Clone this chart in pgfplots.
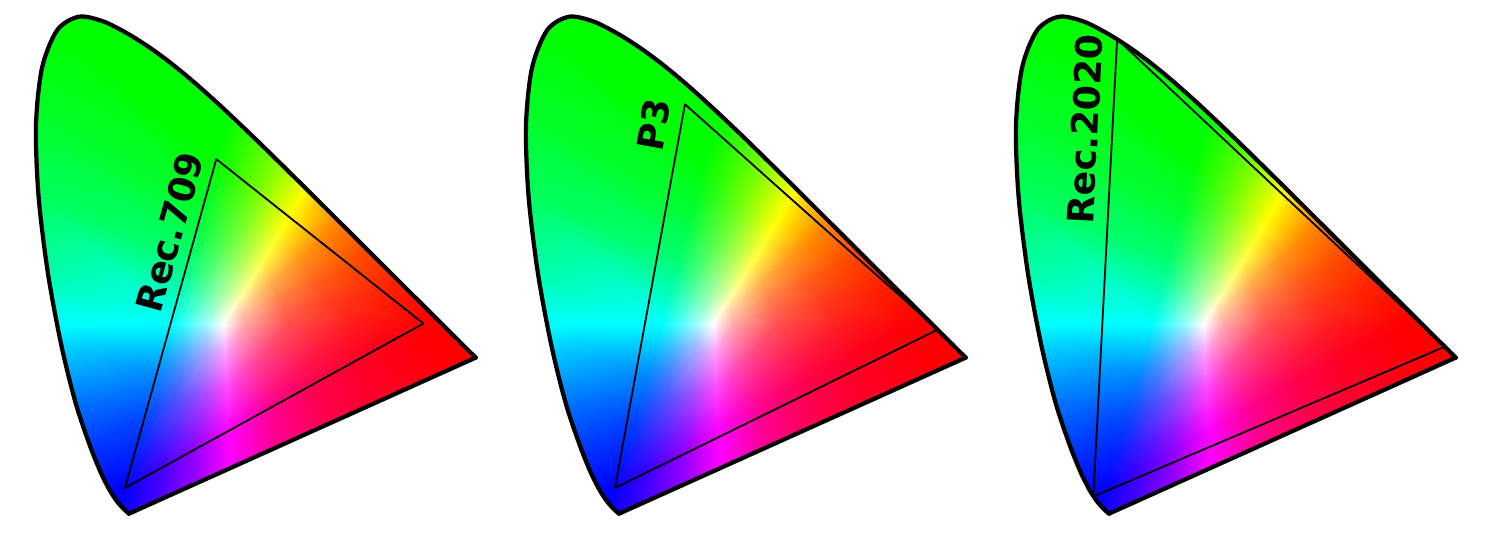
\documentclass[border=0pt]{standalone}
\usepackage{fontspec}
\setmainfont{DejaVu Sans}
\usepackage{pgfplots}
\usepackage{pgfplotstable}
\pgfplotsset{compat=1.18}

% mesh of the chromaticity fill: white point, three rings, gamut edge, spectral locus
\pgfplotstableread{
x y c
0.3127 0.3290 rgb=1,1,1
0.2841 0.2817 rgb=0.65,0.65,1
0.2848 0.2951 rgb=0.65,0.738,1
0.2855 0.3092 rgb=0.65,0.84,1
0.2865 0.3289 rgb=0.65,1,1
0.2993 0.3543 rgb=0.65,1,0.799
0.3057 0.3668 rgb=0.65,1,0.711
0.3105 0.3762 rgb=0.65,1,0.65
0.3167 0.3754 rgb=0.722,1,0.65
0.3242 0.3743 rgb=0.812,1,0.65
0.3389 0.3723 rgb=1,1,0.65
0.3419 0.3543 rgb=1,0.839,0.65
0.3438 0.3433 rgb=1,0.752,0.65
0.3451 0.3359 rgb=1,0.697,0.65
0.3462 0.3291 rgb=1,0.65,0.65
0.3413 0.3224 rgb=1,0.65,0.697
0.3360 0.3150 rgb=1,0.65,0.751
0.3280 0.3041 rgb=1,0.65,0.837
0.3147 0.2859 rgb=1,0.65,1
0.3019 0.2841 rgb=0.845,0.65,1
0.2924 0.2829 rgb=0.739,0.65,1
0.2346 0.1998 rgb=0.3,0.3,1
0.2416 0.2427 rgb=0.3,0.477,1
0.2480 0.2820 rgb=0.3,0.681,1
0.2556 0.3288 rgb=0.3,1,1
0.2800 0.3908 rgb=0.3,1,0.597
0.2945 0.4275 rgb=0.3,1,0.422
0.3066 0.4585 rgb=0.3,1,0.3
0.3234 0.4520 rgb=0.444,1,0.3
0.3422 0.4448 rgb=0.624,1,0.3
0.3751 0.4321 rgb=1,1,0.3
0.3909 0.3966 rgb=1,0.679,0.3
0.4027 0.3703 rgb=1,0.504,0.3
0.4118 0.3500 rgb=1,0.395,0.3
0.4210 0.3293 rgb=1,0.3,0.3
0.4003 0.3087 rgb=1,0.3,0.394
0.3800 0.2886 rgb=1,0.3,0.502
0.3536 0.2623 rgb=1,0.3,0.675
0.3175 0.2265 rgb=1,0.3,1
0.2854 0.2162 rgb=0.69,0.3,1
0.2595 0.2078 rgb=0.478,0.3,1
0.1857 0.1190 rgb=0.1,0.1,1
0.2043 0.1975 rgb=0.1,0.327,1
0.2195 0.2613 rgb=0.1,0.589,1
0.2355 0.3287 rgb=0.1,1,1
0.2645 0.4200 rgb=0.1,1,0.482
0.2843 0.4821 rgb=0.1,1,0.257
0.3028 0.5402 rgb=0.1,1,0.1
0.3297 0.5234 rgb=0.285,1,0.1
0.3578 0.5059 rgb=0.516,1,0.1
0.4027 0.4779 rgb=1,1,0.1
0.4373 0.4368 rgb=1,0.587,0.1
0.4681 0.4002 rgb=1,0.362,0.1
0.4954 0.3678 rgb=1,0.222,0.1
0.5274 0.3297 rgb=1,0.1,0.1
0.4743 0.2917 rgb=1,0.1,0.221
0.4289 0.2593 rgb=1,0.1,0.36
0.3779 0.2228 rgb=1,0.1,0.582
0.3196 0.1812 rgb=1,0.1,1
0.2716 0.1589 rgb=0.602,0.1,1
0.2294 0.1393 rgb=0.329,0.1,1
0.1500 0.0600 rgb=0,0,1
0.1800 0.1680 rgb=0,0.252,1
0.2025 0.2490 rgb=0,0.544,1
0.2246 0.3287 rgb=0,1,1
0.2550 0.4380 rgb=0,1,0.425
0.2775 0.5190 rgb=0,1,0.175
0.3000 0.6000 rgb=0,1,0
0.3340 0.5730 rgb=0.206,1,0
0.3680 0.5460 rgb=0.462,1,0
0.4193 0.5053 rgb=1,1,0
0.4700 0.4650 rgb=1,0.541,0
0.5210 0.4245 rgb=1,0.291,0
0.5720 0.3840 rgb=1,0.135,0
0.6400 0.3300 rgb=1,0,0
0.5420 0.2760 rgb=1,0,0.134
0.4685 0.2355 rgb=1,0,0.288
0.3950 0.1950 rgb=1,0,0.536
0.3209 0.1542 rgb=1,0,1
0.2627 0.1221 rgb=0.558,0,1
0.2088 0.0924 rgb=0.255,0,1
0.1566 0.0177 rgb=0.078,0,1
0.1510 0.0227 rgb=0.048,0,1
0.1422 0.0319 rgb=0,0,1
0.1355 0.0399 rgb=0,0,1
0.1298 0.0490 rgb=0,0,1
0.1241 0.0578 rgb=0,0.026,1
0.1096 0.0868 rgb=0,0.107,1
0.0913 0.1327 rgb=0,0.241,1
0.0687 0.2007 rgb=0,0.463,1
0.0454 0.2950 rgb=0,0.839,1
0.0392 0.3282 rgb=0,1,1
0.0235 0.4127 rgb=0,1,0.662
0.0082 0.5384 rgb=0,1,0.362
0.0039 0.6548 rgb=0,1,0.184
0.0139 0.7502 rgb=0,1,0.069
0.0373 0.8080 rgb=0,1,0
0.0389 0.8120 rgb=0,1,0
0.0743 0.8338 rgb=0,1,0
0.1142 0.8262 rgb=0,1,0
0.1547 0.8059 rgb=0,1,0
0.1929 0.7816 rgb=0,1,0
0.2296 0.7543 rgb=0,1,0
0.2658 0.7243 rgb=0,1,0
0.3016 0.6923 rgb=0,1,0
0.3207 0.6745 rgb=0,1,0
0.3373 0.6589 rgb=0.086,1,0
0.3552 0.6417 rgb=0.19,1,0
0.3731 0.6245 rgb=0.306,1,0
0.3909 0.6071 rgb=0.438,1,0
0.4087 0.5896 rgb=0.588,1,0
0.4473 0.5516 rgb=1,1,0
0.4788 0.5202 rgb=1,0.681,0
0.4957 0.5034 rgb=1,0.558,0
0.5125 0.4866 rgb=1,0.456,0
0.5448 0.4544 rgb=1,0.304,0
0.5752 0.4242 rgb=1,0.197,0
0.6029 0.3965 rgb=1,0.119,0
0.6270 0.3725 rgb=1,0.063,0
0.6482 0.3514 rgb=1,0.02,0
0.6594 0.3404 rgb=1,0,0
0.6658 0.3340 rgb=1,0,0
0.6915 0.3083 rgb=1,0,0
0.7079 0.2920 rgb=1,0,0
0.7190 0.2809 rgb=1,0,0
0.7260 0.2740 rgb=1,0,0
0.7165 0.2697 rgb=1,0,0
0.6691 0.2484 rgb=1,0,0.042
0.6121 0.2227 rgb=1,0,0.105
0.5552 0.1971 rgb=1,0,0.184
0.4982 0.1715 rgb=1,0,0.288
0.4413 0.1459 rgb=1,0,0.431
0.4128 0.1330 rgb=1,0,0.525
0.3844 0.1202 rgb=1,0,0.64
0.3237 0.0929 rgb=1,0,1
0.2705 0.0690 rgb=0.631,0,1
0.2135 0.0433 rgb=0.323,0,1
0.1965 0.0356 rgb=0.244,0,1
}\gamutverts

% CIE 1931 spectral locus, 450-650 nm
\pgfplotstableread{
x y
0.1566 0.0177
0.1510 0.0227
0.1440 0.0297
0.1355 0.0399
0.1241 0.0578
0.1096 0.0868
0.0913 0.1327
0.0687 0.2007
0.0454 0.2950
0.0235 0.4127
0.0082 0.5384
0.0039 0.6548
0.0139 0.7502
0.0389 0.8120
0.0743 0.8338
0.1142 0.8262
0.1547 0.8059
0.1929 0.7816
0.2296 0.7543
0.2658 0.7243
0.3016 0.6923
0.3373 0.6589
0.3731 0.6245
0.4087 0.5896
0.4441 0.5547
0.4788 0.5202
0.5125 0.4866
0.5448 0.4544
0.5752 0.4242
0.6029 0.3965
0.6270 0.3725
0.6482 0.3514
0.6658 0.3340
0.6801 0.3197
0.6915 0.3083
0.7006 0.2993
0.7079 0.2920
0.7140 0.2859
0.7190 0.2809
0.7230 0.2770
0.7260 0.2740
}\locus

\tikzset{gamut label/.style={font=\bfseries\fontsize{18.2}{20}\selectfont, inner sep=0pt}}

\pgfplotsset{
  gamut axis/.style={scale only axis, width=231.42pt, height=261.87pt,
    xmin=0, xmax=0.76, ymin=0, ymax=0.86, hide axis, clip=false,
    anchor=south west},
  gamut fill/.style={patch, patch type=triangle, shader=interp,
    mesh/color input=explicit, table/row sep=\\,
    patch table={
0 1 2\\ 1 2 22\\ 1 22 21\\ 21 22 42\\ 21 42 41\\ 41 42 62\\ 41 62 61\\
0 2 3\\ 2 3 23\\ 2 23 22\\ 22 23 43\\ 22 43 42\\ 42 43 63\\ 42 63 62\\
0 3 4\\ 3 4 24\\ 3 24 23\\ 23 24 44\\ 23 44 43\\ 43 44 64\\ 43 64 63\\
0 4 5\\ 4 5 25\\ 4 25 24\\ 24 25 45\\ 24 45 44\\ 44 45 65\\ 44 65 64\\
0 5 6\\ 5 6 26\\ 5 26 25\\ 25 26 46\\ 25 46 45\\ 45 46 66\\ 45 66 65\\
0 6 7\\ 6 7 27\\ 6 27 26\\ 26 27 47\\ 26 47 46\\ 46 47 67\\ 46 67 66\\
0 7 8\\ 7 8 28\\ 7 28 27\\ 27 28 48\\ 27 48 47\\ 47 48 68\\ 47 68 67\\
0 8 9\\ 8 9 29\\ 8 29 28\\ 28 29 49\\ 28 49 48\\ 48 49 69\\ 48 69 68\\
0 9 10\\ 9 10 30\\ 9 30 29\\ 29 30 50\\ 29 50 49\\ 49 50 70\\ 49 70 69\\
0 10 11\\ 10 11 31\\ 10 31 30\\ 30 31 51\\ 30 51 50\\ 50 51 71\\ 50 71 70\\
0 11 12\\ 11 12 32\\ 11 32 31\\ 31 32 52\\ 31 52 51\\ 51 52 72\\ 51 72 71\\
0 12 13\\ 12 13 33\\ 12 33 32\\ 32 33 53\\ 32 53 52\\ 52 53 73\\ 52 73 72\\
0 13 14\\ 13 14 34\\ 13 34 33\\ 33 34 54\\ 33 54 53\\ 53 54 74\\ 53 74 73\\
0 14 15\\ 14 15 35\\ 14 35 34\\ 34 35 55\\ 34 55 54\\ 54 55 75\\ 54 75 74\\
0 15 16\\ 15 16 36\\ 15 36 35\\ 35 36 56\\ 35 56 55\\ 55 56 76\\ 55 76 75\\
0 16 17\\ 16 17 37\\ 16 37 36\\ 36 37 57\\ 36 57 56\\ 56 57 77\\ 56 77 76\\
0 17 18\\ 17 18 38\\ 17 38 37\\ 37 38 58\\ 37 58 57\\ 57 58 78\\ 57 78 77\\
0 18 19\\ 18 19 39\\ 18 39 38\\ 38 39 59\\ 38 59 58\\ 58 59 79\\ 58 79 78\\
0 19 20\\ 19 20 40\\ 19 40 39\\ 39 40 60\\ 39 60 59\\ 59 60 80\\ 59 80 79\\
0 20 1\\ 20 1 21\\ 20 21 40\\ 40 21 41\\ 40 41 60\\ 60 41 61\\ 60 61 80\\
61 83 84\\ 61 84 85\\
61 85 86\\ 61 86 87\\ 61 87 88\\ 61 88 62\\
62 88 89\\ 62 89 63\\
63 89 90\\ 63 90 91\\ 63 91 64\\
64 91 92\\ 64 92 93\\ 64 93 65\\
65 93 94\\ 65 94 66\\
66 94 95\\ 66 95 96\\ 66 96 67\\
67 96 97\\ 67 97 98\\ 67 98 99\\ 67 99 100\\ 67 100 101\\ 67 101 102\\ 67 102 103\\ 67 103 104\\ 67 104 105\\
67 105 106\\ 67 106 107\\ 67 107 68\\
68 107 108\\ 68 108 109\\ 68 109 69\\
69 109 110\\ 69 110 111\\ 69 111 70\\
70 111 112\\ 70 112 113\\ 70 113 71\\
71 113 114\\ 71 114 115\\ 71 115 72\\
72 115 116\\ 72 116 117\\ 72 117 73\\
73 117 118\\ 73 118 119\\ 73 119 120\\ 73 120 74\\
74 120 121\\ 74 121 122\\ 74 122 123\\ 74 123 124\\ 74 124 125\\ 74 125 126\\
74 126 127\\ 74 127 128\\ 74 128 75\\
75 128 129\\ 75 129 130\\ 75 130 76\\
76 130 131\\ 76 131 132\\ 76 132 77\\
77 132 133\\ 77 133 134\\ 77 134 78\\
78 134 135\\ 78 135 79\\
79 135 136\\ 79 136 137\\ 79 137 80\\
80 137 81\\ 80 81 82\\ 80 82 83\\ 80 83 61\\
    }},
  locus line/.style={black, line width=2.1pt, line join=round, line cap=round},
  gamut line/.style={black, line width=0.9pt, line join=round, line cap=round},
}

\newcommand{\drawlocus}{%
  \addplot[locus line, smooth] table {\locus};
  \addplot[locus line] coordinates {(0.7260,0.2740) (0.1566,0.0177)};
}

\begin{document}
\begin{tikzpicture}
\path[use as bounding box] (0,0) rectangle (756pt,270pt);

\begin{axis}[gamut axis, at={(16.8pt,7.75pt)}]
  \addplot[gamut fill] table[x=x, y=y, meta=c] {\gamutverts};
  \drawlocus
  \addplot[gamut line] coordinates {(0.640,0.330) (0.300,0.600) (0.150,0.060) (0.640,0.330)};
  \node[gamut label, rotate=74.5] at (axis cs:0.224,0.480) {Rec.709};
\end{axis}

\begin{axis}[gamut axis, at={(261.8pt,7.75pt)}]
  \addplot[gamut fill] table[x=x, y=y, meta=c] {\gamutverts};
  \drawlocus
  \addplot[gamut line] coordinates {(0.680,0.320) (0.265,0.690) (0.150,0.060) (0.680,0.320)};
  \node[gamut label, rotate=79.7] at (axis cs:0.2135,0.656) {P3};
\end{axis}

\begin{axis}[gamut axis, at={(506.8pt,7.75pt)}]
  \addplot[gamut fill] table[x=x, y=y, meta=c] {\gamutverts};
  \drawlocus
  \addplot[gamut line] coordinates {(0.708,0.292) (0.170,0.797) (0.131,0.046) (0.708,0.292)};
  \node[gamut label, rotate=87] at (axis cs:0.117,0.649) {Rec.2020};
\end{axis}
\end{tikzpicture}
\end{document}
